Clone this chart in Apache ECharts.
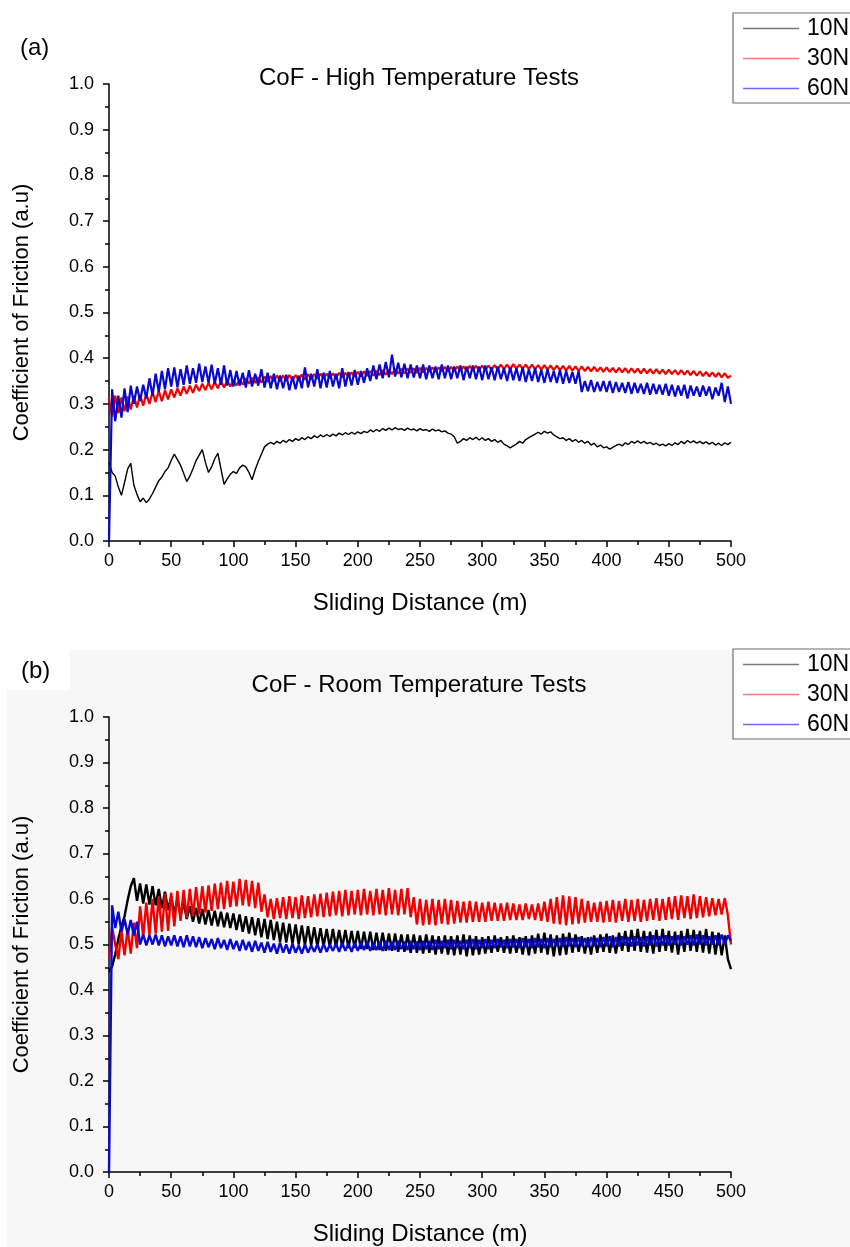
<!DOCTYPE html>
<html>
<head>
<meta charset="utf-8">
<script src="https://cdn.jsdelivr.net/npm/echarts@6/dist/echarts.min.js"></script>
<style>html,body{margin:0;padding:0;background:#fff;}#c{width:850px;height:1247px;}</style>
</head>
<body>
<div id="c"></div>
<script>
// Sliding distance sampling step (m) for all series
const STEP = 2.5;
const SERIES_NAMES = ['10N', '30N', '60N'];
const X_TICKS = { min: 0, max: 500, interval: 50 };
const Y_TICKS = { min: 0, max: 1, interval: 0.1 };

// (a) High temperature tests
const HT_10N = [
0.172,0.150,0.142,0.118,0.100,0.128,0.158,0.170,0.122,0.102,
0.086,0.094,0.084,0.092,0.104,0.118,0.132,0.140,0.152,0.160,
0.176,0.190,0.178,0.166,0.148,0.130,0.142,0.158,0.176,0.188,
0.200,0.172,0.150,0.162,0.180,0.192,0.158,0.124,0.136,0.146,
0.152,0.148,0.160,0.166,0.162,0.150,0.134,0.156,0.174,0.190,
0.206,0.212,0.216,0.212,0.218,0.214,0.220,0.216,0.222,0.218,
0.224,0.220,0.226,0.222,0.228,0.224,0.230,0.226,0.232,0.228,
0.233,0.229,0.234,0.230,0.236,0.232,0.237,0.233,0.238,0.234,
0.239,0.235,0.240,0.237,0.243,0.239,0.244,0.240,0.246,0.242,
0.247,0.243,0.248,0.244,0.246,0.242,0.247,0.243,0.245,0.241,
0.246,0.242,0.244,0.240,0.245,0.241,0.243,0.239,0.241,0.236,
0.234,0.228,0.214,0.218,0.224,0.220,0.226,0.222,0.227,0.221,
0.226,0.220,0.224,0.218,0.222,0.216,0.220,0.212,0.208,0.204,
0.208,0.212,0.218,0.214,0.222,0.226,0.230,0.234,0.238,0.234,
0.240,0.236,0.239,0.232,0.228,0.224,0.226,0.220,0.224,0.218,
0.222,0.216,0.220,0.214,0.218,0.210,0.214,0.206,0.210,0.204,
0.206,0.201,0.205,0.209,0.212,0.208,0.215,0.211,0.218,0.214,
0.219,0.214,0.218,0.213,0.216,0.211,0.214,0.209,0.212,0.208,
0.213,0.209,0.215,0.211,0.218,0.213,0.220,0.215,0.219,0.214,
0.218,0.213,0.217,0.212,0.216,0.210,0.214,0.209,0.215,0.211,
0.216];
const HT_30N = [
0.312,0.272,0.318,0.280,0.314,0.284,0.316,0.288,0.318,0.292,
0.320,0.296,0.322,0.300,0.326,0.304,0.328,0.306,0.330,0.310,
0.332,0.314,0.334,0.318,0.338,0.322,0.340,0.324,0.342,0.328,
0.344,0.330,0.346,0.332,0.348,0.334,0.350,0.336,0.351,0.338,
0.352,0.340,0.354,0.342,0.356,0.344,0.357,0.346,0.358,0.347,
0.360,0.348,0.361,0.349,0.362,0.350,0.362,0.351,0.363,0.352,
0.363,0.352,0.364,0.353,0.365,0.354,0.365,0.355,0.366,0.356,
0.366,0.356,0.367,0.357,0.368,0.358,0.368,0.359,0.369,0.360,
0.370,0.360,0.371,0.361,0.372,0.362,0.373,0.363,0.374,0.364,
0.375,0.365,0.376,0.366,0.377,0.367,0.377,0.368,0.378,0.368,
0.379,0.369,0.379,0.370,0.380,0.370,0.380,0.371,0.381,0.371,
0.381,0.372,0.382,0.372,0.382,0.373,0.383,0.373,0.383,0.374,
0.384,0.374,0.384,0.375,0.385,0.375,0.386,0.376,0.386,0.376,
0.387,0.377,0.386,0.377,0.386,0.376,0.386,0.376,0.385,0.375,
0.385,0.375,0.384,0.374,0.384,0.374,0.383,0.373,0.383,0.373,
0.382,0.372,0.382,0.372,0.381,0.371,0.381,0.371,0.380,0.370,
0.380,0.370,0.379,0.369,0.379,0.369,0.378,0.368,0.378,0.368,
0.377,0.367,0.377,0.367,0.376,0.366,0.376,0.366,0.375,0.365,
0.375,0.365,0.374,0.364,0.374,0.364,0.373,0.363,0.372,0.362,
0.371,0.361,0.370,0.360,0.369,0.359,0.368,0.358,0.367,0.357,
0.362];
const HT_60N = [
0.000,0.332,0.262,0.318,0.270,0.334,0.282,0.340,0.300,0.338,
0.306,0.342,0.312,0.356,0.318,0.366,0.326,0.372,0.332,0.378,
0.338,0.380,0.336,0.376,0.342,0.384,0.344,0.378,0.346,0.388,
0.348,0.382,0.346,0.386,0.344,0.378,0.342,0.384,0.340,0.374,
0.338,0.372,0.340,0.368,0.336,0.374,0.338,0.366,0.340,0.376,
0.336,0.368,0.334,0.366,0.332,0.362,0.334,0.364,0.330,0.360,
0.332,0.362,0.334,0.380,0.336,0.366,0.338,0.376,0.334,0.368,
0.336,0.372,0.338,0.366,0.334,0.378,0.338,0.370,0.340,0.374,
0.342,0.372,0.346,0.378,0.350,0.384,0.354,0.386,0.356,0.392,
0.358,0.408,0.360,0.390,0.358,0.388,0.356,0.386,0.358,0.384,
0.356,0.386,0.354,0.384,0.356,0.382,0.354,0.386,0.356,0.384,
0.354,0.382,0.356,0.384,0.352,0.382,0.356,0.384,0.354,0.382,
0.352,0.384,0.354,0.380,0.352,0.382,0.354,0.378,0.350,0.380,
0.352,0.378,0.350,0.380,0.348,0.376,0.350,0.378,0.348,0.374,
0.346,0.376,0.348,0.372,0.346,0.374,0.344,0.372,0.346,0.370,
0.344,0.372,0.326,0.350,0.328,0.352,0.326,0.348,0.328,0.350,
0.326,0.350,0.324,0.348,0.326,0.346,0.324,0.348,0.322,0.346,
0.324,0.344,0.322,0.346,0.320,0.344,0.322,0.342,0.320,0.344,
0.318,0.342,0.316,0.340,0.318,0.342,0.312,0.340,0.318,0.338,
0.316,0.340,0.318,0.338,0.310,0.336,0.318,0.346,0.304,0.338,
0.300];

// (b) Room temperature tests
const RT_10N = [
0.440,0.452,0.478,0.512,0.540,0.562,0.598,0.628,0.646,0.596,
0.634,0.590,0.632,0.588,0.628,0.586,0.622,0.580,0.616,0.576,
0.606,0.568,0.600,0.562,0.592,0.556,0.584,0.550,0.580,0.546,
0.578,0.544,0.576,0.542,0.574,0.540,0.572,0.538,0.570,0.536,
0.568,0.532,0.566,0.528,0.562,0.524,0.560,0.520,0.558,0.516,
0.556,0.512,0.554,0.510,0.550,0.506,0.548,0.504,0.546,0.502,
0.544,0.500,0.542,0.498,0.540,0.498,0.538,0.496,0.536,0.496,
0.534,0.494,0.534,0.494,0.532,0.494,0.532,0.492,0.530,0.492,
0.530,0.490,0.528,0.490,0.528,0.488,0.526,0.488,0.526,0.486,
0.524,0.486,0.524,0.484,0.522,0.484,0.522,0.482,0.522,0.482,
0.520,0.480,0.522,0.482,0.520,0.478,0.518,0.480,0.520,0.478,
0.518,0.476,0.520,0.478,0.522,0.474,0.520,0.476,0.518,0.478,
0.516,0.480,0.518,0.482,0.520,0.484,0.516,0.482,0.518,0.480,
0.520,0.482,0.516,0.478,0.518,0.476,0.520,0.480,0.524,0.482,
0.526,0.478,0.522,0.474,0.520,0.476,0.524,0.478,0.526,0.482,
0.522,0.484,0.518,0.480,0.516,0.478,0.520,0.482,0.522,0.484,
0.524,0.482,0.520,0.480,0.526,0.486,0.530,0.484,0.532,0.486,
0.534,0.484,0.530,0.482,0.528,0.480,0.532,0.484,0.534,0.486,
0.530,0.482,0.528,0.478,0.530,0.484,0.534,0.486,0.532,0.484,
0.530,0.482,0.534,0.480,0.528,0.478,0.526,0.476,0.520,0.468,
0.446];
const RT_30N = [
0.470,0.538,0.500,0.468,0.530,0.476,0.534,0.480,0.548,0.492,
0.584,0.516,0.592,0.520,0.600,0.524,0.606,0.528,0.612,0.530,
0.614,0.540,0.618,0.552,0.620,0.558,0.622,0.562,0.626,0.566,
0.628,0.570,0.630,0.574,0.634,0.578,0.636,0.578,0.640,0.582,
0.638,0.584,0.644,0.586,0.642,0.584,0.640,0.580,0.636,0.572,
0.610,0.560,0.600,0.556,0.602,0.558,0.604,0.556,0.606,0.558,
0.604,0.556,0.608,0.558,0.606,0.560,0.610,0.562,0.612,0.560,
0.614,0.562,0.616,0.564,0.618,0.562,0.620,0.564,0.618,0.566,
0.620,0.564,0.622,0.566,0.618,0.564,0.622,0.566,0.620,0.564,
0.624,0.566,0.620,0.564,0.622,0.566,0.624,0.560,0.604,0.544,
0.600,0.542,0.598,0.544,0.600,0.542,0.598,0.546,0.600,0.544,
0.598,0.546,0.596,0.548,0.594,0.548,0.596,0.550,0.594,0.550,
0.592,0.550,0.594,0.552,0.592,0.552,0.590,0.552,0.592,0.554,
0.590,0.554,0.588,0.554,0.590,0.556,0.588,0.554,0.590,0.552,
0.594,0.550,0.600,0.546,0.604,0.544,0.608,0.542,0.606,0.544,
0.604,0.546,0.600,0.548,0.596,0.550,0.592,0.550,0.594,0.548,
0.596,0.550,0.598,0.548,0.596,0.552,0.600,0.550,0.598,0.552,
0.600,0.550,0.598,0.552,0.600,0.554,0.602,0.552,0.600,0.554,
0.604,0.556,0.606,0.554,0.608,0.558,0.606,0.556,0.610,0.558,
0.606,0.560,0.604,0.562,0.602,0.564,0.600,0.566,0.602,0.564,
0.500];
const RT_60N = [
0.000,0.586,0.536,0.572,0.528,0.556,0.522,0.554,0.520,0.550,
0.500,0.522,0.498,0.520,0.500,0.522,0.498,0.520,0.496,0.518,
0.498,0.520,0.496,0.518,0.494,0.520,0.496,0.518,0.494,0.516,
0.492,0.514,0.494,0.512,0.490,0.514,0.492,0.510,0.488,0.512,
0.490,0.508,0.486,0.510,0.488,0.506,0.484,0.508,0.486,0.504,
0.482,0.506,0.484,0.502,0.480,0.504,0.482,0.500,0.480,0.502,
0.482,0.498,0.480,0.500,0.482,0.498,0.484,0.500,0.482,0.502,
0.484,0.500,0.486,0.502,0.484,0.504,0.486,0.502,0.484,0.504,
0.486,0.504,0.488,0.506,0.486,0.504,0.488,0.506,0.486,0.508,
0.488,0.506,0.488,0.508,0.490,0.506,0.488,0.508,0.490,0.506,
0.488,0.508,0.490,0.508,0.488,0.510,0.490,0.508,0.492,0.510,
0.490,0.510,0.492,0.508,0.490,0.510,0.492,0.512,0.490,0.510,
0.492,0.512,0.490,0.510,0.492,0.512,0.494,0.510,0.492,0.512,
0.494,0.512,0.492,0.514,0.494,0.512,0.492,0.514,0.494,0.512,
0.492,0.514,0.494,0.512,0.496,0.514,0.494,0.516,0.496,0.514,
0.494,0.516,0.496,0.514,0.494,0.516,0.496,0.514,0.494,0.516,
0.496,0.518,0.494,0.516,0.496,0.518,0.498,0.516,0.496,0.518,
0.498,0.516,0.496,0.518,0.498,0.520,0.496,0.518,0.498,0.520,
0.498,0.518,0.500,0.520,0.498,0.518,0.500,0.520,0.498,0.522,
0.500,0.520,0.498,0.518,0.500,0.520,0.498,0.522,0.500,0.520,
0.508];

const COLORS = ['#000000', '#f00000', '#0808d0'];
const LEGEND_COLORS = ['#7a7a7a', '#ff7a7a', '#6a6aff'];
const FONT = 'Liberation Sans, Arial, sans-serif';

function toPairs(arr) { return arr.map((v, i) => [i * STEP, v]); }

function xAxisFor(gi) {
  return {
    gridIndex: gi, type: 'value', min: X_TICKS.min, max: X_TICKS.max, interval: X_TICKS.interval,
    name: 'Sliding Distance (m)', nameLocation: 'middle', nameGap: 50,
    nameTextStyle: { fontSize: 24, color: '#000', fontFamily: FONT },
    axisLine: { show: true, onZero: false, lineStyle: { color: '#000', width: 1.5 } },
    axisTick: { show: true, inside: false, length: 6, lineStyle: { color: '#000', width: 1.5 } },
    minorTick: { show: true, splitNumber: 2, length: 4, lineStyle: { color: '#000', width: 1.5 } },
    splitLine: { show: false },
    axisLabel: { fontSize: 18, color: '#000', margin: 11, fontFamily: FONT }
  };
}
function yAxisFor(gi) {
  return {
    gridIndex: gi, type: 'value', min: Y_TICKS.min, max: Y_TICKS.max, interval: Y_TICKS.interval,
    name: 'Coefficient of Friction (a.u)', nameLocation: 'middle', nameGap: 76, nameRotate: 90,
    nameTextStyle: { fontSize: 22, color: '#000', fontFamily: FONT },
    axisLine: { show: true, onZero: false, lineStyle: { color: '#000', width: 1.5 } },
    axisTick: { show: true, inside: false, length: 6, lineStyle: { color: '#000', width: 1.5 } },
    minorTick: { show: true, splitNumber: 2, length: 4, lineStyle: { color: '#000', width: 1.5 } },
    splitLine: { show: false },
    axisLabel: { fontSize: 18, color: '#000', margin: 15, fontFamily: FONT, formatter: v => v.toFixed(1) }
  };
}
function legendFor(top) {
  return {
    orient: 'vertical', left: 733, top: top, padding: [4, 10, 3, 10],
    icon: 'rect', itemWidth: 56, itemHeight: 1.6, itemGap: 7,
    borderColor: '#6e6e6e', borderWidth: 1.2, backgroundColor: '#ffffff',
    selectedMode: false,
    textStyle: { fontSize: 23, color: '#000', fontFamily: FONT, lineHeight: 22, padding: [0, 0, 0, 3] },
    data: SERIES_NAMES.map((n, i) => ({ name: n, icon: 'rect', itemStyle: { color: LEGEND_COLORS[i] } }))
  };
}
function lineSeries(name, arr, gi, ci, w) {
  return {
    name: name, type: 'line', xAxisIndex: gi, yAxisIndex: gi,
    data: toPairs(arr), symbol: 'none', showSymbol: false, smooth: false,
    lineStyle: { color: COLORS[ci], width: w, join: 'bevel' }, itemStyle: { color: COLORS[ci] },
    emphasis: { disabled: true }, clip: true
  };
}

const chart = echarts.init(document.getElementById('c'), null, { renderer: 'canvas' });
chart.setOption({
  animation: false,
  backgroundColor: '#ffffff',
  graphic: [
    { type: 'rect', z: -20, silent: true, shape: { x: 7, y: 650, width: 843, height: 597 }, style: { fill: '#f7f7f7' } },
    { type: 'rect', z: -19, silent: true, shape: { x: 0, y: 640, width: 70, height: 50 }, style: { fill: '#ffffff' } }
  ],
  title: [
    { text: '(a)', left: 20, top: 36, padding: 0, textAlign: 'left', textVerticalAlign: 'top', textStyle: { fontSize: 24, fontWeight: 'normal', color: '#000', fontFamily: FONT } },
    { text: 'CoF - High Temperature Tests', left: 419, top: 66, padding: 0, textAlign: 'center', textVerticalAlign: 'top', textStyle: { fontSize: 24, fontWeight: 'normal', color: '#000', fontFamily: FONT } },
    { text: '(b)', left: 21, top: 659, padding: 0, textAlign: 'left', textVerticalAlign: 'top', textStyle: { fontSize: 24, fontWeight: 'normal', color: '#000', fontFamily: FONT } },
    { text: 'CoF - Room Temperature Tests', left: 419, top: 673, padding: 0, textAlign: 'center', textVerticalAlign: 'top', textStyle: { fontSize: 24, fontWeight: 'normal', color: '#000', fontFamily: FONT } }
  ],
  legend: [legendFor(13), legendFor(649)],
  grid: [
    { left: 109, width: 622, top: 84, height: 457, containLabel: false },
    { left: 109, width: 622, top: 717, height: 458, containLabel: false }
  ],
  xAxis: [xAxisFor(0), xAxisFor(1)],
  yAxis: [yAxisFor(0), yAxisFor(1)],
  series: [
    lineSeries('10N', HT_10N, 0, 0, 1.4),
    lineSeries('30N', HT_30N, 0, 1, 2.2),
    lineSeries('60N', HT_60N, 0, 2, 2.2),
    lineSeries('10N', RT_10N, 1, 0, 2.4),
    lineSeries('30N', RT_30N, 1, 1, 2.4),
    lineSeries('60N', RT_60N, 1, 2, 2.4)
  ]
});
</script>
</body>
</html>
